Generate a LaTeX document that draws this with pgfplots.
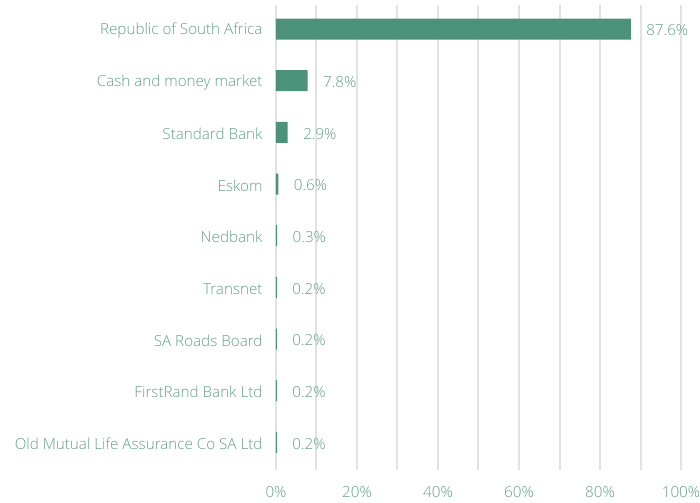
\documentclass[border=0pt]{standalone}
\usepackage{pgfplots}
\pgfplotsset{compat=1.18}
\usepackage{fontspec}
\setmainfont{Open Sans}[UprightFont={* Light}]
\definecolor{barc}{HTML}{4C9179}
\definecolor{txt}{HTML}{64A087}
\definecolor{grd}{HTML}{E2E2E2}
\begin{document}
\begin{tikzpicture}
\begin{axis}[
  scale only axis, width=405bp, height=465bp,
  xbar, bar width=21bp,
  xmin=0, xmax=100, ymin=-0.465, ymax=8.535, y dir=reverse,
  axis line style={draw=none}, major tick length=0pt, minor tick length=0pt,
  xtick={0,20,...,100}, minor xtick={10,30,50,70,90},
  xmajorgrids, xminorgrids, ymajorgrids=false,
  major grid style={grd, line width=2bp},
  minor grid style={grd, line width=2bp},
  xticklabel={\pgfmathprintnumber{\tick}\%},
  ytick={0,...,8},
  yticklabels={Republic of South Africa, Cash and money market, Standard Bank, Eskom, Nedbank, Transnet, SA Roads Board, FirstRand Bank Ltd, Old Mutual Life Assurance Co SA Ltd},
  ticklabel style={font=\fontsize{15.2bp}{17bp}\selectfont, text=txt},
  xticklabel style={yshift=-13bp},
  yticklabel style={xshift=-10bp, yshift=-1.5bp},
  /pgf/number format/assume math mode=true,
  point meta=x,
  nodes near coords={\pgfmathprintnumber[fixed,precision=1,fixed zerofill,assume math mode=true]{\pgfplotspointmeta}\%},
  nodes near coords align={horizontal},
  every node near coord/.append style={font=\fontsize{15.2bp}{17bp}\selectfont, text=txt, anchor=west, xshift=12bp, yshift=-1.5bp},
]
\addplot[fill=barc, draw=none] coordinates {
  (87.6,0) (7.8,1) (2.9,2) (0.6,3) (0.3,4) (0.2,5) (0.2,6) (0.2,7) (0.2,8)
};
\end{axis}
\pgfresetboundingbox
\path[use as bounding box] ([xshift=-276bp,yshift=-33bp]current axis.south west) rectangle ([xshift=19bp,yshift=5bp]current axis.north east);
\end{tikzpicture}
\end{document}
